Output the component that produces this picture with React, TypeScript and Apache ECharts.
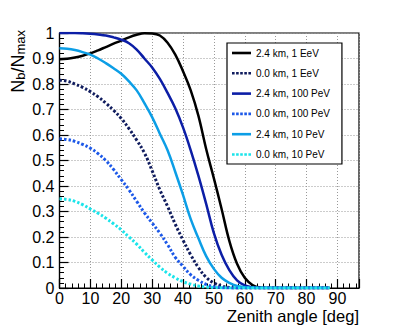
import React, { useEffect, useRef } from 'react';
import * as echarts from 'echarts';

// Series names (legend)
const seriesNames = [
  '2.4 km, 1 EeV',
  '0.0 km, 1 EeV',
  '2.4 km, 100 PeV',
  '0.0 km, 100 PeV',
  '2.4 km, 10 PeV',
  '0.0 km, 10 PeV',
];

const angles = [
  0, 2.5, 5, 7.5, 10, 12.5, 15, 17.5, 20, 22.5, 25, 27.5, 30, 32.5, 35, 37.5, 40, 42.5,
  45, 47.5, 50, 52.5, 55, 57.5, 60, 62.5, 65, 67.5, 70, 72.5, 75, 77.5, 80, 82.5, 85, 87.5,
];

// Nb/Nmax values
const h24_1EeV = [
  0.897, 0.899, 0.904, 0.911, 0.92, 0.932, 0.945, 0.958, 0.97, 0.983, 0.993, 0.999, 0.998, 0.99,
  0.962, 0.915, 0.85, 0.775, 0.675, 0.545, 0.43, 0.31, 0.185, 0.095, 0.04, 0.012, 0.002, 0, 0,
  0, 0, 0, 0, 0, 0, 0,
];
const h00_1EeV = [
  0.815, 0.811, 0.80, 0.787, 0.77, 0.75, 0.725, 0.697, 0.665, 0.625, 0.58, 0.53, 0.46, 0.385,
  0.32, 0.25, 0.188, 0.13, 0.08, 0.042, 0.02, 0.008, 0.002, 0, 0, 0, 0, 0, 0, 0, 0, 0, 0, 0, 0, 0,
];
const h24_100PeV = [
  1.0, 1.0, 1.0, 0.999, 0.997, 0.994, 0.99, 0.983, 0.974, 0.96, 0.935, 0.9, 0.865, 0.82, 0.765,
  0.705, 0.63, 0.54, 0.44, 0.33, 0.215, 0.13, 0.07, 0.03, 0.01, 0.003, 0, 0, 0, 0, 0, 0, 0, 0, 0, 0,
];
const h00_100PeV = [
  0.585, 0.582, 0.575, 0.563, 0.548, 0.527, 0.5, 0.465, 0.425, 0.385, 0.34, 0.295, 0.255, 0.215,
  0.17, 0.12, 0.085, 0.052, 0.03, 0.014, 0.005, 0.001, 0, 0, 0, 0, 0, 0, 0, 0, 0, 0, 0, 0, 0, 0,
];
const h24_10PeV = [
  0.94, 0.938, 0.933, 0.925, 0.915, 0.9, 0.882, 0.862, 0.84, 0.81, 0.775, 0.725, 0.67, 0.605,
  0.54, 0.455, 0.365, 0.27, 0.195, 0.125, 0.075, 0.04, 0.02, 0.008, 0.003, 0.001, 0, 0, 0, 0, 0,
  0, 0, 0, 0, 0,
];
const h00_10PeV = [
  0.35, 0.347, 0.34, 0.327, 0.31, 0.293, 0.274, 0.252, 0.228, 0.2, 0.172, 0.14, 0.11, 0.082,
  0.058, 0.04, 0.025, 0.015, 0.008, 0.004, 0.002, 0.001, 0, 0, 0, 0, 0, 0, 0, 0, 0, 0, 0, 0, 0, 0,
];

const seriesValues = [h24_1EeV, h00_1EeV, h24_100PeV, h00_100PeV, h24_10PeV, h00_10PeV];
const seriesColors = ['#000000', '#101c5e', '#0c1ea6', '#1c58e8', '#0c9ee6', '#1ce4ea'];
const seriesDotted = [false, true, false, true, false, true];

const xMin = 0;
const xMax = 97;
const yMin = 0;
const yMax = 1;

const FONT = "'Liberation Sans', Arial, Helvetica, sans-serif";

const SOLID_ICON = 'path://M0,0h19v2.6h-19z';
const DOTTED_ICON =
  'path://M0,0h2.6v2.6h-2.6z M4.1,0h2.6v2.6h-2.6z M8.2,0h2.6v2.6h-2.6z M12.3,0h2.6v2.6h-2.6z M16.4,0h2.6v2.6h-2.6z';

export default function App() {
  const ref = useRef<HTMLDivElement>(null);
  useEffect(() => {
    if (!ref.current) return;
    const chart = echarts.init(ref.current, undefined, { renderer: 'svg' });
    chart.setOption({
      animation: false,
      backgroundColor: '#ffffff',
      grid: {
        left: 59.5,
        top: 33,
        right: 40,
        bottom: 40,
        show: true,
        borderColor: '#000',
        borderWidth: 1.2,
        backgroundColor: 'transparent',
      },
      xAxis: {
        type: 'value',
        min: xMin,
        max: xMax,
        interval: 10,
        axisLine: { show: true, onZero: false, lineStyle: { color: '#000', width: 1.2 } },
        axisTick: { show: true, inside: true, length: 9, lineStyle: { color: '#000', width: 1.2 } },
        minorTick: { show: true, splitNumber: 5, length: 4.5, lineStyle: { color: '#000', width: 1 } },
        splitLine: { show: true, lineStyle: { color: '#999', width: 1, type: [1, 2] } },
        axisLabel: {
          show: true,
          showMaxLabel: false,
          color: '#000',
          fontSize: 16,
          fontFamily: FONT,
          margin: 2,
          lineHeight: 16,
        },
      },
      yAxis: {
        type: 'value',
        min: yMin,
        max: yMax,
        interval: 0.1,
        axisLine: { show: true, onZero: false, lineStyle: { color: '#000', width: 1.2 } },
        axisTick: { show: true, inside: true, length: 9, lineStyle: { color: '#000', width: 1.2 } },
        minorTick: { show: true, splitNumber: 5, length: 4.5, lineStyle: { color: '#000', width: 1 } },
        splitLine: { show: true, lineStyle: { color: '#999', width: 1, type: [1, 2] } },
        axisLabel: {
          show: true,
          color: '#000',
          fontSize: 16,
          fontFamily: FONT,
          margin: 5,
          formatter: (v: number) => String(Math.round(v * 10) / 10),
        },
      },
      legend: {
        show: true,
        orient: 'vertical',
        left: 227,
        top: 43,
        backgroundColor: '#fff',
        borderColor: '#000',
        borderWidth: 1.2,
        padding: [5, 12, 4.5, 5],
        itemWidth: 19,
        itemHeight: 10,
        itemGap: 10.3,
        itemTextGap: 5,
        textStyle: { color: '#000', fontSize: 10, fontFamily: FONT },
        data: seriesNames.map((n, i) => ({
          name: n,
          icon: seriesDotted[i] ? DOTTED_ICON : SOLID_ICON,
          itemStyle: { color: seriesColors[i] },
        })),
      },
      graphic: [
        {
          type: 'text',
          x: 359,
          y: 316,
          style: {
            text: 'Zenith angle [deg]',
            fill: '#000',
            fontSize: 16.5,
            fontFamily: FONT,
            align: 'right',
            verticalAlign: 'middle',
          },
        },
        {
          type: 'text',
          x: 16,
          y: 30,
          rotation: Math.PI / 2,
          style: {
            text: '{n|N}{s|b}{n|/N}{s|max}',
            fill: '#000',
            fontFamily: FONT,
            align: 'right',
            verticalAlign: 'middle',
            rich: {
              n: { fontSize: 18, fontFamily: FONT, fill: '#000', verticalAlign: 'bottom', lineHeight: 22 },
              s: { fontSize: 13, fontFamily: FONT, fill: '#000', verticalAlign: 'bottom', lineHeight: 22 },
            },
          },
        },
      ],
      series: seriesValues.map((vals, i) => ({
        name: seriesNames[i],
        type: 'line',
        data: vals.map((v, k) => [angles[k], v]),
        smooth: 0.4,
        showSymbol: false,
        symbol: 'none',
        clip: true,
        z: 3 + i,
        lineStyle: {
          color: seriesColors[i],
          width: seriesDotted[i] ? 3 : 2.5,
          type: seriesDotted[i] ? [2.5, 2] : 'solid',
          cap: 'butt',
        },
        itemStyle: { color: seriesColors[i] },
      })),
    });
    return () => chart.dispose();
  }, []);
  return (
    <div
      ref={ref}
      style={{ position: 'fixed', left: 0, top: 0, width: 399, height: 328, background: '#fff' }}
    />
  );
}
